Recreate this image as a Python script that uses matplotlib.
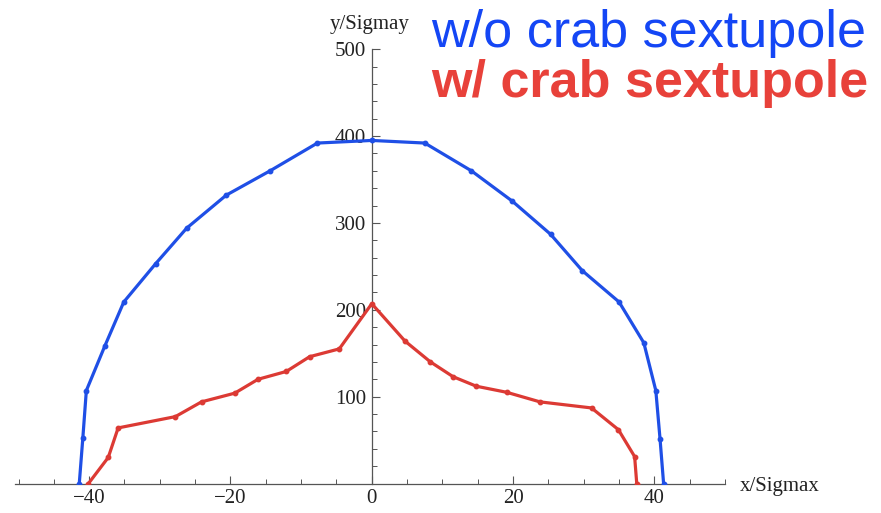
import numpy as np
import matplotlib.pyplot as plt
from matplotlib.ticker import MultipleLocator

# blue: without crab sextupole
x_wo = [-41.4, -40.9, -40.4, -37.8, -35.1, -30.6, -26.2, -20.6, -14.4, -7.7, 0.0,
        7.5, 14.1, 19.9, 25.3, 29.8, 35.0, 38.5, 40.2, 40.8, 41.3]
y_wo = [0, 52, 107, 158, 209, 253, 294, 332, 360, 392, 395,
        392, 360, 325, 287, 245, 209, 162, 107, 51, 0]

# red: with crab sextupole
x_w = [-40.1, -37.3, -35.9, -27.8, -24.1, -19.4, -16.1, -12.1, -8.8, -4.6, 0.0,
       4.7, 8.3, 11.5, 14.8, 19.1, 23.8, 31.1, 34.9, 37.2, 37.5]
y_w = [0, 30, 64, 77, 94, 104, 120, 129, 146, 155, 207,
       164, 140, 123, 112, 105, 94, 87, 62, 31, 0]

xticks = [-40, -20, 0, 20, 40]
yticks = [100, 200, 300, 400, 500]

blue = '#1f4fe6'
red = '#dc3a34'

fig = plt.figure(figsize=(8.81, 5.13), dpi=100)
ax = fig.add_axes([0.017, 0.0575, 0.806, 0.8465])

ax.plot(x_wo, y_wo, '-', color=blue, lw=2.3, marker='o', ms=3.2, zorder=3)
ax.plot(x_w, y_w, '-', color=red, lw=2.3, marker='o', ms=3.2, zorder=3)

ax.set_xlim(-50.5, 50)
ax.set_ylim(0, 500)

for s in ['top', 'right']:
    ax.spines[s].set_visible(False)
ax.spines['left'].set_position(('data', 0))
ax.spines['bottom'].set_position(('data', 0))
ax.spines['left'].set_color('#555555')
ax.spines['bottom'].set_color('#555555')
ax.spines['left'].set_linewidth(0.9)
ax.spines['bottom'].set_linewidth(0.9)

ax.set_xticks(xticks)
ax.set_xticklabels(['\u221240', '\u221220', '0', '20', '40'])
ax.set_yticks(yticks)
ax.xaxis.set_minor_locator(MultipleLocator(5))
ax.yaxis.set_minor_locator(MultipleLocator(20))
ax.tick_params(which='major', direction='in', length=6, width=0.8, color='#555555',
               labelsize=15, pad=4)
ax.tick_params(which='minor', direction='in', length=3.5, width=0.7, color='#555555')
for lab in ax.get_xticklabels() + ax.get_yticklabels():
    lab.set_family('Liberation Serif')
    lab.set_color('#222222')

fig.text(0.840, 0.0525, 'x/Sigmax', family='Liberation Serif', fontsize=15,
         color='#222222', ha='left', va='center')
fig.text(0.4195, 0.953, 'y/Sigmay', family='Liberation Serif', fontsize=15,
         color='#222222', ha='center', va='center')

fig.text(0.983, 0.934, 'w/o crab sextupole', family='Liberation Sans', fontsize=37.5,
         color='#1446f5', ha='right', va='center')
fig.text(0.985, 0.838, 'w/ crab sextupole', family='Liberation Sans', fontsize=37.5,
         fontweight='bold', color='#e8413a', ha='right', va='center')

fig.savefig('out.png', dpi=100)
